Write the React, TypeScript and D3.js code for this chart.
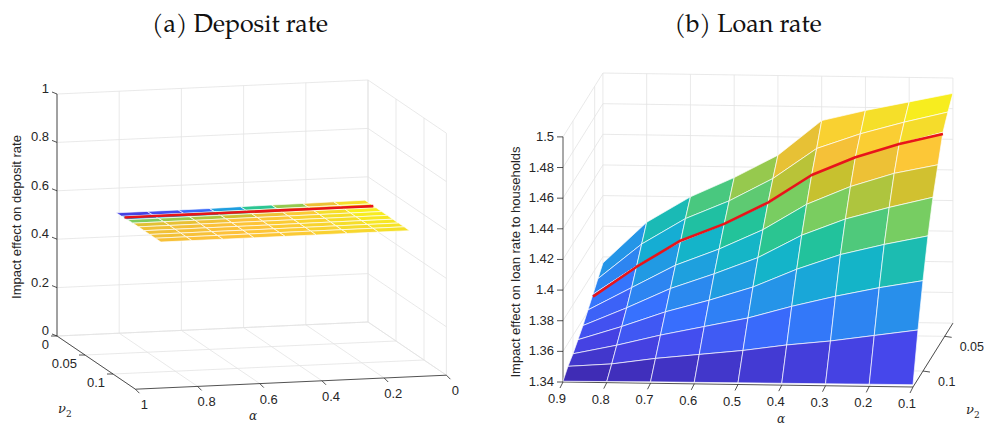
import React from "react";
import * as d3 from "d3";

// ---------- data ----------
const alphaVals = [0.9, 0.8, 0.7, 0.6, 0.5, 0.4, 0.3, 0.2, 0.1];
const nuDeposit = [0.05, 0.06, 0.07, 0.08, 0.09, 0.1, 0.11, 0.12, 0.13];
const nuLoan = [0.031, 0.0425, 0.054, 0.0655, 0.077, 0.0885, 0.1, 0.1115, 0.123];
// rows: nu ; cols: alpha (0.9 -> 0.1)
const depositZ = [
  [0.5818, 0.5818, 0.5819, 0.5822, 0.5841, 0.585, 0.5857, 0.5867, 0.5877],
  [0.5828, 0.583, 0.5834, 0.5842, 0.585, 0.5857, 0.5865, 0.5873, 0.588],
  [0.5847, 0.585, 0.5853, 0.5856, 0.5861, 0.5866, 0.5871, 0.5876, 0.588],
  [0.5862, 0.5863, 0.5864, 0.5865, 0.5867, 0.5869, 0.5873, 0.5876, 0.5879],
  [0.5866, 0.5866, 0.5867, 0.5868, 0.5869, 0.5871, 0.5873, 0.5875, 0.5878],
  [0.5866, 0.5866, 0.5867, 0.5867, 0.5869, 0.5871, 0.5873, 0.5875, 0.5877],
  [0.5866, 0.5866, 0.5867, 0.5868, 0.5869, 0.5871, 0.5873, 0.5875, 0.5876],
  [0.5866, 0.5867, 0.5867, 0.5868, 0.5869, 0.5871, 0.5872, 0.5874, 0.5876],
  [0.5867, 0.5867, 0.5868, 0.5869, 0.5869, 0.587, 0.5872, 0.5873, 0.5875],
];
const depositRedNu = 0.065;
const depositRedZ = [0.5862, 0.5862, 0.5862, 0.5862, 0.5863, 0.5864, 0.5865, 0.5866, 0.5868];

const loanZ = [
  [1.376, 1.403, 1.42, 1.433, 1.448, 1.471, 1.478, 1.484, 1.49],
  [1.371, 1.394, 1.411, 1.423, 1.438, 1.458, 1.468, 1.476, 1.483],
  [1.366, 1.385, 1.401, 1.413, 1.427, 1.446, 1.458, 1.467, 1.475],
  [1.361, 1.376, 1.391, 1.402, 1.415, 1.432, 1.444, 1.453, 1.459],
  [1.356, 1.368, 1.381, 1.391, 1.402, 1.417, 1.428, 1.436, 1.443],
  [1.352, 1.361, 1.371, 1.379, 1.388, 1.4, 1.41, 1.417, 1.423],
  [1.348, 1.354, 1.361, 1.367, 1.373, 1.381, 1.388, 1.394, 1.399],
  [1.345, 1.347, 1.351, 1.354, 1.357, 1.361, 1.364, 1.368, 1.372],
  [1.3405, 1.3407, 1.3409, 1.341, 1.3411, 1.3412, 1.3413, 1.3414, 1.3415],
];
const loanRedNu = 0.054;
const loanRedZ = [1.3645, 1.3844, 1.4018, 1.4132, 1.4275, 1.4459, 1.4579, 1.467, 1.4739];

const depZTicks = [0, 0.2, 0.4, 0.6, 0.8, 1];
const depAlphaTicks = [1, 0.8, 0.6, 0.4, 0.2, 0];
const depNuTicks = [0, 0.05, 0.1];
const loanZTicks = [1.34, 1.36, 1.38, 1.4, 1.42, 1.44, 1.46, 1.48, 1.5];
const loanAlphaTicks = [0.9, 0.8, 0.7, 0.6, 0.5, 0.4, 0.3, 0.2, 0.1];
const loanNuTicks = [0.05, 0.1];

// ---------- parula ----------
const parulaStops = ["#3e26a8", "#4646eb", "#3771fe", "#2594e8", "#12b2cf", "#24c496", "#7acd60", "#c8c12e", "#fec13a", "#f5dc2b", "#f9fb15"];
const parula = d3.scaleLinear<string>().domain(parulaStops.map((_, i) => i / (parulaStops.length - 1))).range(parulaStops).interpolate(d3.interpolateRgb).clamp(true);

type P3 = (a: number, n: number, z: number) => [number, number];

const projDep: P3 = (a, n, z) => [368 - 311 * a + 560 * n, 322 + 14 * a + 380 * n - 242 * z];
const projLoan: P3 = (a, n, z) => [
  913 - 437.5 * (a - 0.1) - 434 * (n - 0.123),
  387 - 6.25 * (a - 0.1) + 694 * (n - 0.123) - 1532 * (z - 1.34),
];

const GRID = "#e3e3e3";
const AX = "#262626";
const fmt = (v: number) => String(+v.toFixed(2));

function line(p: P3, a: [number, number, number], b: [number, number, number], color: string, key: string, w = 0.8) {
  const [x1, y1] = p(...a);
  const [x2, y2] = p(...b);
  return <line key={key} x1={x1} y1={y1} x2={x2} y2={y2} stroke={color} strokeWidth={w} />;
}

function Surface({ p, Z, nus, redNu, redZ }: { p: P3; Z: number[][]; nus: number[]; redNu: number; redZ: number[] }) {
  const flat = Z.flat();
  const c = d3.scaleLinear().domain([d3.min(flat)!, d3.max(flat)!]).range([0, 1]);
  const polys: JSX.Element[] = [];
  for (let j = 0; j < nus.length - 1; j++) {
    for (let i = 0; i < alphaVals.length - 1; i++) {
      const pts = [
        p(alphaVals[i], nus[j], Z[j][i]),
        p(alphaVals[i + 1], nus[j], Z[j][i + 1]),
        p(alphaVals[i + 1], nus[j + 1], Z[j + 1][i + 1]),
        p(alphaVals[i], nus[j + 1], Z[j + 1][i]),
      ];
      const m = (Z[j][i] + Z[j][i + 1] + Z[j + 1][i] + Z[j + 1][i + 1]) / 4;
      polys.push(
        <polygon key={`${j}-${i}`} points={pts.map((q) => q.join(",")).join(" ")} fill={parula(c(m))} stroke="#ffffff" strokeOpacity={0.85} strokeWidth={0.8} strokeLinejoin="round" />
      );
    }
  }
  const red = d3.line()(alphaVals.map((a, i) => p(a, redNu, redZ[i])));
  return (
    <g>
      {polys}
      <path d={red!} fill="none" stroke="#e8141a" strokeWidth={2.6} strokeLinejoin="round" />
    </g>
  );
}

const tickFont = { fontFamily: "Liberation Sans, Arial, sans-serif", fontSize: 13, fill: AX };

function DepositPanel() {
  const p = projDep;
  const nMax = 0.14;
  const els: JSX.Element[] = [];
  depZTicks.forEach((z, k) => els.push(line(p, [1, 0, z], [0, 0, z], GRID, `bz${k}`)));
  depAlphaTicks.forEach((a, k) => els.push(line(p, [a, 0, 0], [a, 0, 1], GRID, `ba${k}`)));
  depZTicks.forEach((z, k) => els.push(line(p, [0, 0, z], [0, nMax, z], GRID, `rz${k}`)));
  depNuTicks.forEach((n, k) => els.push(line(p, [0, n, 0], [0, n, 1], GRID, `rn${k}`)));
  els.push(line(p, [0, nMax, 0], [0, nMax, 1], GRID, `rne`));
  depAlphaTicks.forEach((a, k) => els.push(line(p, [a, 0, 0], [a, nMax, 0], GRID, `fa${k}`)));
  depNuTicks.forEach((n, k) => els.push(line(p, [1, n, 0], [0, n, 0], GRID, `fn${k}`)));
  els.push(line(p, [1, 0, 0], [1, 0, 1], AX, "za"));
  els.push(line(p, [1, nMax, 0], [0, nMax, 0], AX, "aa"));
  els.push(line(p, [1, 0, 0], [1, nMax, 0], AX, "na"));
  const labels: JSX.Element[] = [];
  depZTicks.forEach((z, k) => {
    const [x, y] = p(1, 0, z);
    labels.push(<line key={`zt${k}`} x1={x} y1={y} x2={x - 5} y2={y - 2} stroke={AX} strokeWidth={0.8} />);
    labels.push(<text key={`zl${k}`} x={x - 8} y={y - 1} textAnchor="end" {...tickFont}>{fmt(z)}</text>);
  });
  depAlphaTicks.forEach((a, k) => {
    const [x, y] = p(a, nMax, 0);
    labels.push(<line key={`at${k}`} x1={x} y1={y} x2={x + 4} y2={y + 4} stroke={AX} strokeWidth={0.8} />);
    labels.push(<text key={`al${k}`} x={x + 9} y={y + 20} textAnchor="middle" {...tickFont}>{fmt(a)}</text>);
  });
  depNuTicks.forEach((n, k) => {
    const [x, y] = p(1, n, 0);
    labels.push(<line key={`nt${k}`} x1={x} y1={y} x2={x - 6} y2={y} stroke={AX} strokeWidth={0.8} />);
    labels.push(<text key={`nl${k}`} x={x - 8} y={y + 13} textAnchor="end" {...tickFont}>{fmt(n)}</text>);
  });
  return (
    <g>
      {els}
      <Surface p={p} Z={depositZ} nus={nuDeposit} redNu={depositRedNu} redZ={depositRedZ} />
      {labels}
      <text x={253} y={420} textAnchor="middle" fontFamily="DejaVu Serif, serif" fontStyle="italic" fontSize={12} fill={AX}>α</text>
      <text x={58} y={413} fontFamily="DejaVu Serif, serif" fontStyle="italic" fontSize={13} fill={AX}>ν<tspan fontStyle="normal" fontSize={9} dy={4}>2</tspan></text>
      <text transform="translate(21,217) rotate(-90)" textAnchor="middle" {...tickFont}>Impact effect on deposit rate</text>
      <text x={240} y={32} textAnchor="middle" fontFamily="'TeX Gyre Pagella', 'Palatino Linotype', 'DejaVu Serif', serif" fontSize={25} fill="#111">(a) Deposit rate</text>
    </g>
  );
}

function LoanPanel() {
  const p = projLoan;
  const aMax = 0.9, aMin = 0.1, nMin = 0.031, nMax = 0.123, zMin = 1.34, zMax = 1.5;
  const els: JSX.Element[] = [];
  loanZTicks.forEach((z, k) => els.push(line(p, [aMax, nMin, z], [aMin, nMin, z], GRID, `bz${k}`)));
  loanAlphaTicks.forEach((a, k) => els.push(line(p, [a, nMin, zMin], [a, nMin, zMax], GRID, `ba${k}`)));
  loanZTicks.forEach((z, k) => els.push(line(p, [aMax, nMin, z], [aMax, nMax, z], GRID, `lz${k}`)));
  loanNuTicks.forEach((n, k) => els.push(line(p, [aMax, n, zMin], [aMax, n, zMax], GRID, `ln${k}`)));
  loanAlphaTicks.forEach((a, k) => els.push(line(p, [a, nMin, zMin], [a, nMax, zMin], GRID, `fa${k}`)));
  loanNuTicks.forEach((n, k) => els.push(line(p, [aMax, n, zMin], [aMin, n, zMin], GRID, `fn${k}`)));
  els.push(line(p, [aMax, nMax, zMin], [aMax, nMax, zMax], AX, "za"));
  els.push(line(p, [aMax, nMax, zMin], [aMin, nMax, zMin], AX, "aa"));
  els.push(line(p, [aMin, nMax, zMin], [aMin, nMin, zMin], AX, "na"));
  const labels: JSX.Element[] = [];
  loanZTicks.forEach((z, k) => {
    const [x, y] = p(aMax, nMax, z);
    labels.push(<line key={`zt${k}`} x1={x} y1={y} x2={x - 6} y2={y} stroke={AX} strokeWidth={0.8} />);
    labels.push(<text key={`zl${k}`} x={x - 9} y={y + 4} textAnchor="end" {...tickFont}>{fmt(z)}</text>);
  });
  loanAlphaTicks.forEach((a, k) => {
    const [x, y] = p(a, nMax, zMin);
    labels.push(<line key={`at${k}`} x1={x} y1={y} x2={x - 3} y2={y + 6} stroke={AX} strokeWidth={0.8} />);
    labels.push(<text key={`al${k}`} x={x - 6} y={y + 21} textAnchor="middle" {...tickFont}>{fmt(a)}</text>);
  });
  loanNuTicks.forEach((n, k) => {
    const [x, y] = p(aMin, n, zMin);
    labels.push(<line key={`nt${k}`} x1={x} y1={y} x2={x + 7} y2={y + 1} stroke={AX} strokeWidth={0.8} />);
    labels.push(<text key={`nl${k}`} x={x + 15} y={y + 15} textAnchor="start" {...tickFont} fontSize={12.5}>{fmt(n)}</text>);
  });
  return (
    <g>
      {els}
      <Surface p={p} Z={loanZ} nus={nuLoan} redNu={loanRedNu} redZ={loanRedZ} />
      {labels}
      <text x={781} y={423} textAnchor="middle" fontFamily="DejaVu Serif, serif" fontStyle="italic" fontSize={12} fill={AX}>α</text>
      <text x={966} y={414} fontFamily="DejaVu Serif, serif" fontStyle="italic" fontSize={13} fill={AX}>ν<tspan fontStyle="normal" fontSize={9} dy={4}>2</tspan></text>
      <text transform="translate(520,262) rotate(-90)" textAnchor="middle" {...tickFont}>Impact effect on loan rate to households</text>
      <text x={748} y={32} textAnchor="middle" fontFamily="'TeX Gyre Pagella', 'Palatino Linotype', 'DejaVu Serif', serif" fontSize={25} fill="#111">(b) Loan rate</text>
    </g>
  );
}

export default function App() {
  return (
    <svg width={986} height={425} style={{ position: "absolute", left: 0, top: 0, background: "#fff" }}>
      <rect width={986} height={425} fill="#fff" />
      <DepositPanel />
      <LoanPanel />
    </svg>
  );
}
